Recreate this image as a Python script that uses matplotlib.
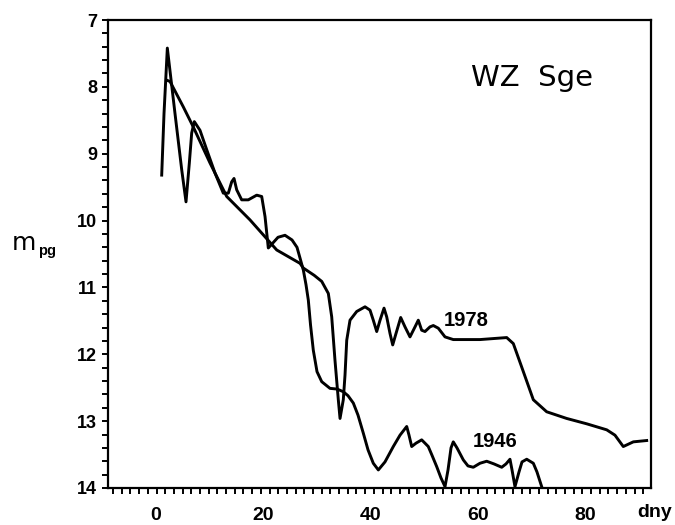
import numpy as np
import matplotlib.pyplot as plt
from matplotlib.ticker import MultipleLocator, FixedLocator

# light curves of WZ Sge (day, m_pg)
days_1978 = [1.99, 2.61, 5.09, 6.95, 10.07, 13.18, 17.52, 22.50, 26.84, 27.46,
             29.5, 30.89, 32.12, 32.75, 33.36, 33.98, 34.30, 34.91, 35.23,
             35.55, 36.16, 37.41, 38.96, 39.89, 40.50, 41.14, 41.76, 42.50,
             43.00, 43.62, 44.12, 44.73, 45.61, 46.41, 47.34, 48.28, 48.89,
             49.52, 50.14, 51.07, 51.69, 52.62, 53.87, 55.41, 60.39, 65.37,
             66.60, 68.16, 70.33, 72.82, 76.55, 80.28, 84.01, 85.55, 87.10,
             88.97, 91.46]
mag_1978 = [7.90, 7.92, 8.30, 8.60, 9.14, 9.64, 9.99, 10.44, 10.64, 10.71,
            10.82, 10.91, 11.09, 11.44, 12.09, 12.68, 12.96, 12.68, 12.31,
            11.79, 11.49, 11.36, 11.29, 11.34, 11.49, 11.66, 11.49, 11.31,
            11.44, 11.69, 11.86, 11.69, 11.45, 11.59, 11.74, 11.59, 11.49,
            11.64, 11.66, 11.59, 11.57, 11.61, 11.74, 11.78, 11.78, 11.75,
            11.84, 12.19, 12.68, 12.86, 12.96, 13.04, 13.13, 13.21, 13.38,
            13.31, 13.29]

days_1946 = [1.06, 1.49, 2.11, 3.54, 4.79, 5.59, 6.21, 6.65, 7.14, 8.20,
             9.45, 11.00, 12.54, 13.48, 14.11, 14.54, 15.04, 15.97, 17.20,
             18.77, 19.70, 20.32, 20.93, 21.62, 22.74, 24.04, 25.35, 26.28,
             26.84, 27.46, 27.96, 28.39, 28.80, 29.32, 30.01, 30.89, 32.43,
             33.74, 34.91, 35.79, 36.78, 37.65, 38.64, 39.52, 40.50, 41.44,
             42.68, 44.23, 45.48, 46.73, 47.16, 47.66, 48.46, 49.52, 50.14,
             50.75, 51.44, 52.32, 53.12, 53.87, 54.43, 54.99, 55.41, 56.10,
             57.28, 58.15, 59.14, 60.39, 61.64, 63.00, 64.44, 65.24, 65.98,
             66.36, 66.91, 67.66, 68.22, 69.10, 69.71, 70.33, 71.01, 71.89]
mag_1946 = [9.32, 8.40, 7.42, 8.40, 9.24, 9.72, 9.14, 8.69, 8.52, 8.65,
            8.94, 9.29, 9.59, 9.59, 9.42, 9.37, 9.54, 9.69, 9.69,
            9.62, 9.64, 9.94, 10.41, 10.35, 10.25, 10.22, 10.29, 10.40,
            10.56, 10.74, 10.96, 11.19, 11.56, 11.94, 12.26, 12.41, 12.51,
            12.52, 12.56, 12.62, 12.73, 12.91, 13.18, 13.43, 13.63, 13.73,
            13.61, 13.38, 13.21, 13.08, 13.21, 13.38, 13.33, 13.28, 13.33,
            13.38, 13.51, 13.68, 13.85, 13.98, 13.73, 13.40, 13.31, 13.40,
            13.58, 13.67, 13.69, 13.63, 13.60, 13.64, 13.69, 13.64, 13.57,
            13.73, 13.98, 13.76, 13.61, 13.57, 13.60, 13.63, 13.76, 13.98]

x_ticks = [0, 20, 40, 60, 80]
y_ticks = [7, 8, 9, 10, 11, 12, 13, 14]

fig = plt.figure(figsize=(6.75, 5.25), dpi=100)
ax = fig.add_axes([0.16, 0.0705, 0.8044, 0.8914])

ax.plot(days_1978, mag_1978, color='k', lw=2.1, solid_joinstyle='round')
ax.plot(days_1946, mag_1946, color='k', lw=2.1, solid_joinstyle='round')

ax.set_xlim(-8.95, 92.26)
ax.set_ylim(14, 7)

ax.set_xticks(x_ticks)
ax.set_xticklabels([str(t) for t in x_ticks], fontsize=14, fontweight='bold',
                   family='Liberation Sans')
ax.xaxis.set_minor_locator(FixedLocator(np.arange(-8, 92.3, 1.62)))
ax.set_yticks(y_ticks)
ax.set_yticklabels([str(t) for t in y_ticks], fontsize=13, fontweight='bold',
                   family='Liberation Sans')
ax.yaxis.set_minor_locator(MultipleLocator(0.2))

ax.tick_params(axis='x', which='major', length=0, pad=14)
ax.tick_params(axis='x', which='minor', length=4, width=1.4, direction='out')
ax.tick_params(axis='y', which='both', length=4, width=1.4, direction='out', pad=4)

for s in ax.spines.values():
    s.set_linewidth(1.6)

ax.text(70.1, 7.87, 'WZ  Sge', fontsize=21, ha='center', va='center')
ax.text(57.9, 11.49, '1978', fontsize=14.5, ha='center', va='center',
        family='Liberation Sans', fontweight='bold')
ax.text(63.2, 13.31, '1946', fontsize=14.5, ha='center', va='center',
        family='Liberation Sans', fontweight='bold')
fig.text(0.995, 0.023, 'dny', fontsize=14, ha='right', va='center',
         family='Liberation Sans', fontweight='bold')

fig.text(0.017, 0.537, 'm', fontsize=18, ha='left', va='center')
fig.text(0.056, 0.522, 'pg', fontsize=10.5, ha='left', va='center',
         fontweight='bold', family='Liberation Sans')

fig.savefig('out.png', dpi=100)
